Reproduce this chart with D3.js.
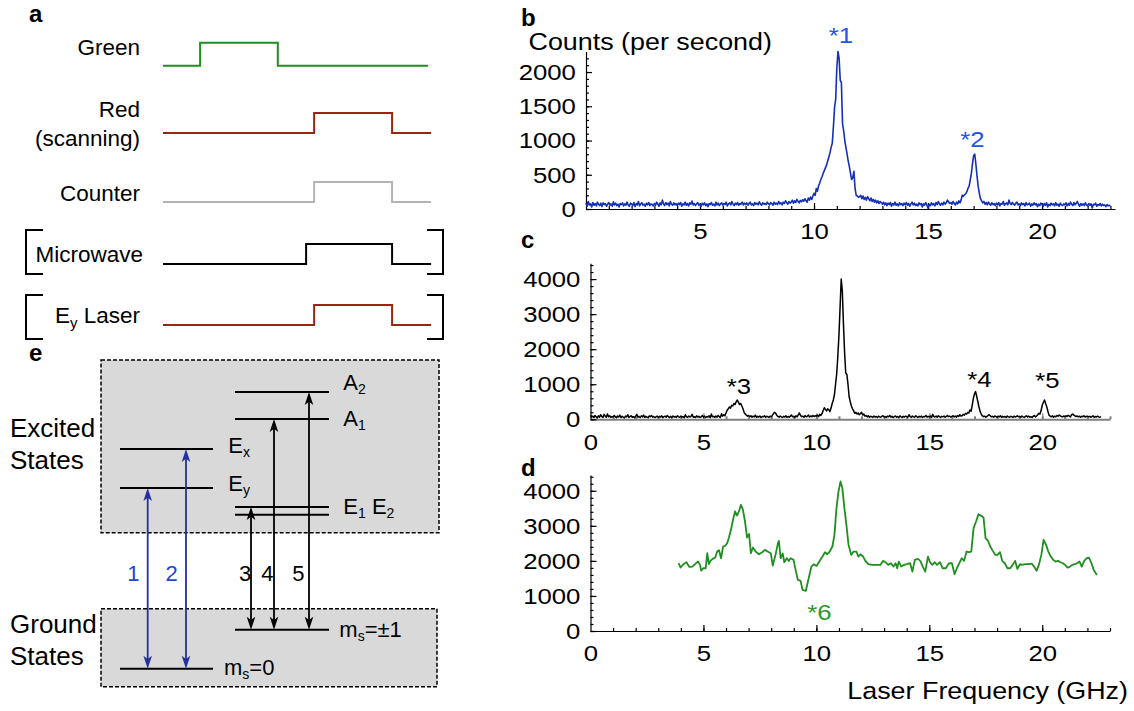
<!DOCTYPE html>
<html>
<head>
<meta charset="utf-8">
<script src="https://cdn.jsdelivr.net/npm/d3@7"></script>
<style>
  body { margin: 0; background: #fff; }
  svg text { font-family: "Liberation Sans", Arial, Helvetica, sans-serif; }
</style>
</head>
<body>
<div id="fig"></div>
<script>
/*******************************/
/*            Data             */
/*******************************/
// Panel b: counts per second, sampled every 0.05 GHz from 0 GHz
const bStart = 0, bStep = 0.05;
const bCounts = [
  90,40,110,60,75,30,95,55,80,45,100,70,50,85,35,90,65,80,40,70,
  95,55,75,40,105,60,85,50,70,30,80,65,90,45,75,55,100,60,40,85,
  70,50,95,35,80,60,110,45,75,90,55,70,40,85,60,95,50,75,65,45,
  80,55,100,70,40,90,60,130,75,50,95,65,85,45,110,70,55,90,60,80,
  50,85,65,95,40,75,60,100,55,80,45,90,70,115,60,80,50,75,95,55,
  70,40,85,60,90,50,75,35,80,65,95,55,70,45,100,60,85,50,75,90,
  55,80,65,100,45,75,90,60,110,70,50,85,65,95,55,80,70,100,60,85,
  65,90,55,80,100,60,75,50,95,70,85,60,105,75,55,90,70,80,65,100,
  75,60,95,80,55,100,70,85,65,110,75,90,60,100,80,120,95,70,110,85,
  100,130,85,120,95,140,110,90,125,105,135,115,150,120,100,160,130,175,140,190,
  230,200,300,260,340,380,430,470,520,560,600,640,700,760,820,900,960,1200,1480,1600,
  2060,2300,2200,1880,1850,1250,1140,1000,900,800,700,620,520,430,460,550,300,200,190,170,
  180,200,150,190,140,170,130,180,150,120,160,110,140,100,130,90,120,80,110,90,
  70,100,60,90,50,85,65,95,40,80,60,100,55,75,45,90,65,80,50,85,
  60,95,55,80,40,75,100,60,85,50,70,45,90,65,80,30,75,55,95,60,
  10,70,50,90,60,80,45,95,65,110,75,55,85,60,100,70,90,130,105,80,
  95,70,110,80,60,100,75,120,90,130,200,185,210,220,250,300,330,420,520,660,
  780,800,650,480,330,230,150,120,90,110,70,95,60,100,75,55,90,65,80,50,
  85,60,95,45,80,70,110,55,75,90,60,130,80,65,95,70,55,85,100,60,
  75,50,90,65,80,45,95,60,70,85,40,75,55,90,60,80,35,70,50,85,
  65,40,80,55,90,30,70,50,85,60,75,45,95,55,70,40,85,60,50,75,
  60,90,45,80,55,100,70,50,95,60,85,110,65,40,80,55,75,50,90,60,
  45,80,55,75,15,70,60,85,40,65,55,80,45,70,50,60,35,65,45,55,
  40
];

// Panel c: counts, sampled every 0.05 GHz from 0 GHz
const cStart = 0, cStep = 0.05;
const cCounts = [
  120,60,90,50,110,70,40,100,60,130,80,50,140,90,60,150,70,100,55,80,
  60,110,75,45,95,65,120,50,85,60,40,90,70,130,55,80,100,60,75,45,
  90,140,60,80,50,100,70,120,55,85,65,45,95,75,110,60,80,50,70,90,
  55,85,65,100,45,75,90,60,110,70,50,85,40,95,65,80,55,100,70,60,
  90,60,80,45,130,70,55,95,65,85,140,60,75,50,100,65,85,55,70,110,
  60,90,50,80,65,100,45,150,70,85,55,95,60,110,75,50,160,90,130,100,
  180,260,300,350,320,400,380,450,420,500,550,480,420,450,380,300,200,150,120,90,
  110,80,100,60,90,70,120,55,85,65,95,50,80,70,100,60,85,75,55,90,
  70,110,160,200,170,110,80,60,95,70,50,85,65,100,55,80,60,90,120,70,
  85,55,100,70,130,180,110,75,90,60,105,70,85,120,65,95,75,110,80,100,
  90,120,75,140,110,160,250,330,280,240,300,270,220,320,450,550,700,1000,1300,1800,
  2400,3200,4000,3650,2700,1900,1320,1280,1000,650,500,380,300,240,170,200,150,180,130,160,
  200,120,150,90,110,70,100,60,85,75,55,95,65,80,50,90,70,60,85,100,
  65,80,55,90,70,110,60,85,50,75,95,60,80,45,100,70,55,85,65,90,
  75,60,130,80,55,95,70,60,100,75,50,85,65,90,55,80,70,110,60,85,
  70,95,55,140,80,65,90,60,100,75,55,85,70,95,60,80,110,75,90,65,
  85,100,70,95,60,110,80,130,90,100,140,120,170,150,200,180,265,230,400,600,
  720,790,650,500,350,220,150,100,75,90,60,80,110,130,100,70,85,60,95,75,
  60,90,70,100,55,85,65,80,50,95,70,60,85,75,55,90,65,80,100,70,
  85,60,95,70,55,80,100,65,90,60,75,55,85,110,70,95,130,170,150,250,
  400,480,550,450,360,230,120,90,70,100,60,85,75,110,90,120,100,80,70,95,
  75,100,85,110,90,70,130,150,120,100,80,95,70,90,60,85,75,100,65,80,
  90,70,85,60,75,100,55,80,65,90,70,60,75
];

// Panel d: laser frequency (GHz) and counts
const dFreq = [
  3.90,3.99,4.11,4.25,4.37,4.51,4.64,4.76,4.85,4.90,
  4.99,5.10,5.17,5.24,5.31,5.41,5.52,5.61,5.69,5.78,
  5.87,5.96,6.05,6.13,6.22,6.31,6.40,6.49,6.57,6.66,
  6.75,6.84,6.93,7.02,7.10,7.19,7.31,7.46,7.60,7.72,
  7.84,7.98,8.07,8.19,8.30,8.34,8.42,8.51,8.58,8.69,
  8.78,8.86,8.99,9.08,9.18,9.30,9.39,9.53,9.66,9.78,
  9.89,10.01,10.13,10.27,10.38,10.48,10.59,10.71,10.80,10.89,
  10.98,11.07,11.15,11.24,11.33,11.42,11.54,11.65,11.77,11.86,
  11.95,12.07,12.17,12.30,12.47,12.65,12.83,12.95,13.06,13.18,
  13.30,13.41,13.51,13.58,13.65,13.76,13.88,14.00,14.15,14.25,
  14.36,14.50,14.60,14.71,14.82,14.94,15.03,15.13,15.24,15.34,
  15.47,15.59,15.73,15.87,16.00,16.12,16.22,16.35,16.44,16.54,
  16.65,16.75,16.86,16.96,17.07,17.18,17.28,17.40,17.49,17.60,
  17.70,17.81,17.92,18.02,18.13,18.23,18.34,18.46,18.58,18.69,
  18.80,18.90,19.01,19.11,19.25,19.39,19.53,19.64,19.75,19.85,
  19.96,20.06,20.17,20.27,20.38,20.49,20.59,20.70,20.80,20.91,
  21.01,21.12,21.23,21.33,21.44,21.54,21.65,21.75,21.86,21.96,
  22.07,22.18,22.28,22.42
];
const dCounts = [
  1933,1810,1905,1962,1829,1838,1914,1981,1886,1724,
  1790,1790,2219,1905,2000,2057,2095,2267,2305,2076,
  2410,2429,2505,2667,2886,3172,3410,3295,3410,3600,
  3457,3124,2667,2771,2219,2381,2267,2190,2248,2314,
  2267,2219,1867,2171,2505,2571,2076,2210,1962,2076,
  2000,2076,2029,1743,1457,1429,1171,1143,1505,1838,
  1905,1857,1981,2124,2248,2190,2267,2410,2743,3505,
  3981,4267,4076,3505,3029,2476,2171,2267,2267,2124,
  2190,2124,2000,1905,1886,1886,1886,2000,1962,1886,
  1933,1838,1933,1790,1981,1838,1886,1905,1933,1695,
  2029,2057,2000,1838,1695,2124,1962,1886,1962,1886,
  1962,1790,1790,1933,1933,1619,1790,1962,2076,2000,
  2267,2248,2267,2933,3124,3333,3295,3238,2648,2571,
  2410,2286,2171,2171,2248,2000,1933,1790,1790,1886,
  2000,1771,1905,1886,1905,1905,1924,1838,1714,1886,
  2171,2600,2457,2267,2124,2029,1981,2000,1962,1933,
  1886,1810,1838,1886,1905,1933,1981,1838,2000,2076,
  2095,1933,1743,1600
];

// Tick labels
const bYTicks = [0, 500, 1000, 1500, 2000];
const cdYTicks = [0, 1000, 2000, 3000, 4000];
const bXTicks = [5, 10, 15, 20];
const cdXTicks = [0, 5, 10, 15, 20];

// Panel a: pulse sequence (on / off times, arbitrary time units 0..100)
const pulseNames = ["Green", "Red", "Counter", "Microwave", "Ey Laser"];
const pulseOn  = [13.9, 56.6, 56.6, 53.6, 56.6];
const pulseOff = [43.0, 85.8, 85.8, 85.8, 85.8];
const pulseEnd = [99.3, 100.4, 100.4, 100.4, 100.4];

// Panel e: energy levels (arbitrary units)
const levelNames  = ["ms0", "ms1", "E2", "E1", "Ey", "Ex", "A1", "A2"];
const levelEnergy = [0, 39, 154, 162, 181, 220, 250, 277];
const transitionLabels = ["1", "2", "3", "4", "5"];
const transitionFrom = ["ms0", "ms0", "ms1", "ms1", "ms1"];
const transitionTo   = ["Ey", "Ex", "E1", "A1", "A2"];

/*******************************/
/*      The SVG container      */
/*******************************/
const width = 1134, height = 711;
const svg = d3.select("#fig")
  .append("svg")
    .attr("width", width)
    .attr("height", height);

const SX = 1.12;   // right-hand plots are slightly stretched horizontally
const blue = "#1530b8", blueText = "#2255ee";
const green = "#1f8f1f", greenText = "#2a9a2a";
const red = "#9b2414";

function stretchText(x, y, str, size, anchor, color) {
  return svg.append("text")
    .attr("transform", `translate(${x},${y}) scale(${SX},1)`)
    .attr("text-anchor", anchor || "start")
    .attr("fill", color || "#000")
    .style("font-size", size + "px")
    .text(str);
}

function panelLetter(x, y, str) {
  svg.append("text")
    .attr("x", x).attr("y", y)
    .style("font-size", "24px")
    .style("font-weight", "bold")
    .text(str);
}

/*******************************/
/*      Spectrum panels        */
/*******************************/
const drawSpectrum = (p) => {
  const x = d3.scaleLinear().domain(p.xDomain).range(p.xRange);
  const y = d3.scaleLinear().domain(p.yDomain).range(p.yRange);
  const g = svg.append("g");
  const y0 = y(0), x0 = x(0);

  const clean = sel => sel.attr("font-family", null).attr("font-size", null);

  // x axis: minor ticks each GHz + line
  g.append("g")
    .attr("transform", `translate(0,${y0})`)
    .call(d3.axisTop(x).tickValues(d3.range(1, Math.floor(p.xDomain[1]) + 1))
      .tickSize(3).tickSizeOuter(0).tickFormat(""))
    .call(s => s.selectAll("line,path").attr("stroke", p.xAxisColor).attr("stroke-width", p.xAxisWidth));
  // x axis major ticks
  g.append("g")
    .attr("transform", `translate(0,${y0})`)
    .call(d3.axisTop(x).tickValues([5, 10, 15, 20]).tickSize(6).tickFormat(""))
    .call(s => s.select(".domain").remove())
    .call(s => s.selectAll("line").attr("stroke", p.xAxisColor).attr("stroke-width", 1.2));
  // x tick labels
  g.append("g")
    .attr("transform", `translate(0,${y0})`)
    .call(d3.axisBottom(x).tickValues(p.xLabels).tickSize(0).tickPadding(14).tickFormat(d3.format("d")))
    .call(clean)
    .call(s => s.select(".domain").remove())
    .call(s => s.selectAll("text")
      .attr("transform", `scale(${SX},1)`)
      .attr("fill", "#000")
      .style("font-size", "23px"));

  // y axis: minor ticks
  g.append("g")
    .attr("transform", `translate(${x0},0)`)
    .call(d3.axisRight(y).tickValues(d3.range(0, p.yDomain[1], p.yMinor))
      .tickSize(3).tickSizeOuter(0).tickFormat(""))
    .call(s => s.selectAll("line,path").attr("stroke", "#000").attr("stroke-width", 1.2));
  // y axis major ticks
  g.append("g")
    .attr("transform", `translate(${x0},0)`)
    .call(d3.axisRight(y).tickValues(p.yLabels).tickSize(6).tickFormat(""))
    .call(s => s.select(".domain").remove())
    .call(s => s.selectAll("line").attr("stroke", "#000").attr("stroke-width", 1.2));
  // y tick labels
  g.append("g")
    .attr("transform", `translate(${x0},0)`)
    .call(d3.axisLeft(y).tickValues(p.yLabels).tickSize(0).tickPadding(9).tickFormat(d3.format("d")))
    .call(clean)
    .call(s => s.select(".domain").remove())
    .call(s => s.selectAll("text")
      .attr("transform", `scale(${SX},1)`)
      .attr("fill", "#000")
      .style("font-size", "23px"));

  // data line
  const line = d3.line().x(d => x(d[0])).y(d => y(d[1]));
  g.append("path")
    .datum(p.data)
    .attr("d", line)
    .attr("fill", "none")
    .attr("stroke", p.color)
    .attr("stroke-width", p.lineWidth)
    .attr("stroke-linejoin", "round");
};

drawSpectrum({
  data: bCounts.map((v, i) => [bStart + i * bStep, v]),
  xDomain: [0, 23.2], xRange: [586, 1115],
  yDomain: [0, 2300], yRange: [209, 51.5],
  yLabels: bYTicks, yMinor: 100, xLabels: bXTicks,
  color: blue, lineWidth: 1.6, xAxisColor: "#000", xAxisWidth: 1.2
});
drawSpectrum({
  data: cCounts.map((v, i) => [cStart + i * cStep, v]),
  xDomain: [0, 23], xRange: [590.5, 1110],
  yDomain: [0, 4450], yRange: [419.3, 263.3],
  yLabels: cdYTicks, yMinor: 200, xLabels: cdXTicks,
  color: "#000", lineWidth: 1.5, xAxisColor: "#808080", xAxisWidth: 2
});
drawSpectrum({
  data: dFreq.map((f, i) => [f, dCounts[i]]),
  xDomain: [0, 23], xRange: [590.5, 1110],
  yDomain: [0, 4450], yRange: [631, 475],
  yLabels: cdYTicks, yMinor: 200, xLabels: cdXTicks,
  color: green, lineWidth: 1.8, xAxisColor: "#000", xAxisWidth: 1.2
});

// Axis titles and peak annotations
stretchText(528.5, 50, "Counts (per second)", 24, "start");
stretchText(1128, 699, "Laser Frequency (GHz)", 24, "end");
stretchText(841, 43, "*1", 23, "middle", blueText);
stretchText(972.5, 146.5, "*2", 23, "middle", blueText);
stretchText(739, 394, "*3", 23, "middle");
stretchText(979.5, 386.5, "*4", 23, "middle");
stretchText(1047.5, 388, "*5", 23, "middle");
stretchText(819.5, 620, "*6", 23, "middle", greenText);

panelLetter(521, 26, "b");
panelLetter(521, 248, "c");
panelLetter(521, 476, "d");

/*******************************/
/*     Panel a: pulse timing    */
/*******************************/
panelLetter(29, 22, "a");
const t = d3.scaleLinear().domain([0, 100]).range([163, 430]);
const pulseLow  = [65.7, 133, 202, 264, 325];
const pulseHigh = [42.7, 113, 182, 244, 305];
const pulseColor = [green, red, "#b3b3b3", "#000", red];

pulseNames.forEach((name, i) => {
  const pts = [
    [0, pulseLow[i]], [pulseOn[i], pulseLow[i]], [pulseOn[i], pulseHigh[i]],
    [pulseOff[i], pulseHigh[i]], [pulseOff[i], pulseLow[i]], [pulseEnd[i], pulseLow[i]]
  ];
  svg.append("path")
    .attr("d", d3.line().x(d => t(d[0])).y(d => d[1])(pts))
    .attr("fill", "none")
    .attr("stroke", pulseColor[i])
    .attr("stroke-width", 2);
});

const aLabel = (x, y, str) => svg.append("text")
  .attr("x", x).attr("y", y).attr("text-anchor", "end")
  .style("font-size", "22.5px").text(str);
aLabel(140, 55, "Green");
aLabel(140, 117, "Red");
aLabel(140, 145.5, "(scanning)");
aLabel(140, 201, "Counter");
aLabel(143, 262, "Microwave");
const eyLab = svg.append("text")
  .attr("x", 140).attr("y", 323).attr("text-anchor", "end")
  .style("font-size", "22.5px");
eyLab.append("tspan").text("E");
eyLab.append("tspan").attr("dy", 5).style("font-size", "15px").text("y");
eyLab.append("tspan").attr("dy", -5).text(" Laser");

// brackets around the optional pulses
[[230, 274], [295, 339]].forEach(([y1, y2]) => {
  svg.append("path")
    .attr("d", `M43,${y1} H26 V${y2} H43`)
    .attr("fill", "none").attr("stroke", "#000").attr("stroke-width", 2);
  svg.append("path")
    .attr("d", `M427,${y1} H443 V${y2} H427`)
    .attr("fill", "none").attr("stroke", "#000").attr("stroke-width", 2);
});

/*******************************/
/*   Panel e: level diagram    */
/*******************************/
panelLetter(29, 361, "e");
const ey = d3.scaleLinear().domain([0, 277]).range([668.7, 392]);
const levelY = name => ey(levelEnergy[levelNames.indexOf(name)]);

// state boxes
[[101, 360, 338, 172.7], [101, 608.7, 336, 78]].forEach(([x, y, w, h]) => {
  svg.append("rect")
    .attr("x", x).attr("y", y).attr("width", w).attr("height", h)
    .attr("fill", "#d9d9d9")
    .attr("stroke", "#000").attr("stroke-width", 1.5)
    .attr("stroke-dasharray", "4,2");
});

// levels
const leftCol = ["ms0", "Ey", "Ex"];
levelNames.forEach(name => {
  const isLeft = leftCol.includes(name);
  svg.append("line")
    .attr("x1", isLeft ? 120 : 235).attr("x2", isLeft ? 213 : 329)
    .attr("y1", levelY(name)).attr("y2", levelY(name))
    .attr("stroke", "#000").attr("stroke-width", 2);
});

// transitions (double arrows)
const transX = [147.7, 186, 251, 274, 309];
const arrowHead = (x, yTip, dir) => {
  const L = 13, W = 4.3, N = 3.2;
  return `M${x},${yTip} L${x - W},${yTip + dir * L} L${x},${yTip + dir * (L - N)} L${x + W},${yTip + dir * L} Z`;
};
transitionLabels.forEach((lab, i) => {
  const x = transX[i];
  const yTop = levelY(transitionTo[i]);
  const yBot = levelY(transitionFrom[i]);
  const col = i < 2 ? "#24309e" : "#000";
  svg.append("line")
    .attr("x1", x).attr("x2", x).attr("y1", yTop + 8).attr("y2", yBot - 8)
    .attr("stroke", col).attr("stroke-width", 1.8);
  svg.append("path").attr("d", arrowHead(x, yTop, 1)).attr("fill", col);
  svg.append("path").attr("d", arrowHead(x, yBot, -1)).attr("fill", col);
});
const transLabelX = [133.3, 171.7, 245, 267.3, 298.3];
transitionLabels.forEach((lab, i) => {
  svg.append("text")
    .attr("x", transLabelX[i]).attr("y", 580.7)
    .attr("text-anchor", "middle")
    .attr("fill", i < 2 ? "#2244dd" : "#000")
    .style("font-size", "22px")
    .text(lab);
});

// level labels with subscripts: parts are [text, isSubscript]
const subLabel = (x, y, parts) => {
  const tx = svg.append("text").attr("x", x).attr("y", y).style("font-size", "22px");
  let shift = 0;
  parts.forEach(([s, sub]) => {
    const target = sub ? 4 : 0;
    const ts = tx.append("tspan").attr("dy", target - shift).text(s);
    if (sub) ts.style("font-size", "14px");
    shift = target;
  });
};
subLabel(343.3, 390, [["A", 0], ["2", 1]]);
subLabel(343.3, 426, [["A", 0], ["1", 1]]);
subLabel(228.3, 453.3, [["E", 0], ["x", 1]]);
subLabel(228.3, 490.7, [["E", 0], ["y", 1]]);
subLabel(343.3, 514, [["E", 0], ["1", 1], ["\u00a0E", 0], ["2", 1]]);
subLabel(339.3, 636.7, [["m", 0], ["s", 1], ["=±1", 0]]);
subLabel(224, 675, [["m", 0], ["s", 1], ["=0", 0]]);

const bigLabel = (x, y, str) => svg.append("text")
  .attr("x", x).attr("y", y).style("font-size", "26px").text(str);
bigLabel(10, 436.7, "Excited");
bigLabel(10, 469.3, "States");
bigLabel(10, 632.7, "Ground");
bigLabel(10, 665, "States");
</script>
</body>
</html>
